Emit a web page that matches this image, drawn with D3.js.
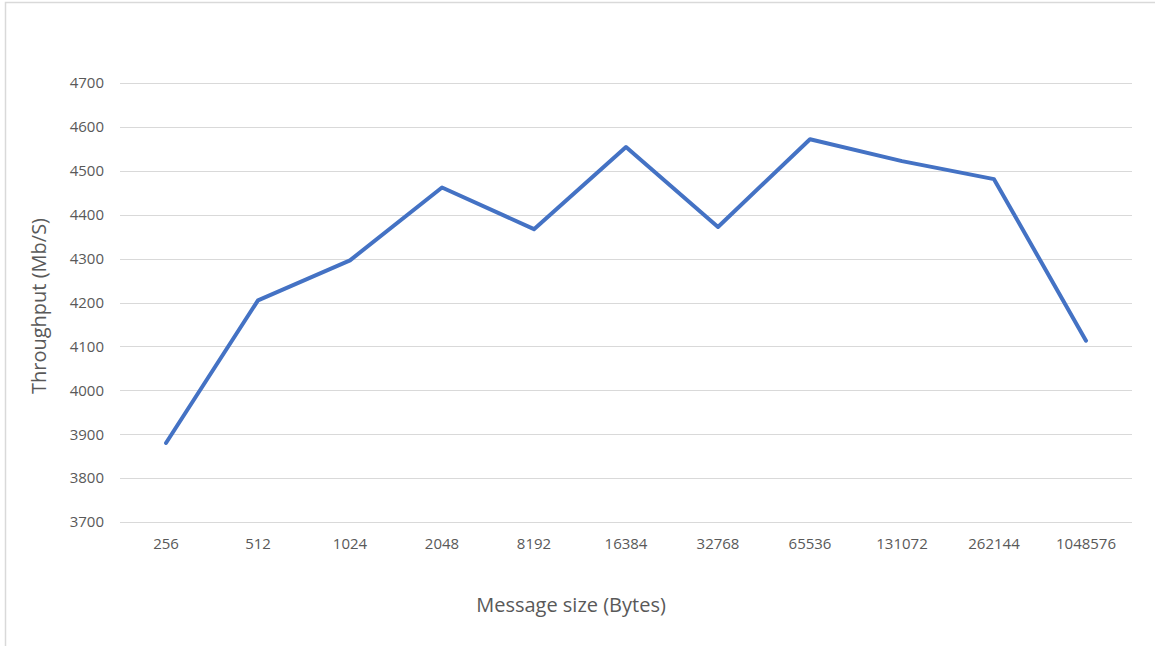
<!DOCTYPE html>
<html>
<head>
<meta charset="utf-8">
<script src="https://cdn.jsdelivr.net/npm/d3@7"></script>
<style>
    body { margin: 0; background: #ffffff; }
    svg { display: block; }
    text { font-family: "Open Sans", "DejaVu Sans", sans-serif; }
</style>
</head>
<body>
<div id="chart"></div>
<script>
"use strict";

// Message sizes (Bytes) on the x axis
const message_sizes = ["256", "512", "1024", "2048", "8192", "16384", "32768", "65536", "131072", "262144", "1048576"];
// Throughput values (Mb/S)
const throughput = [3880, 4205, 4296, 4462, 4367, 4554, 4372, 4572, 4522, 4481, 4113];
// Y axis ticks
const y_ticks = [3700, 3800, 3900, 4000, 4100, 4200, 4300, 4400, 4500, 4600, 4700];

const width = 1155;
const height = 646;
const margins = {top: 83, right: 23, bottom: 124, left: 120};
const plot_width = width - margins.left - margins.right;
const plot_height = height - margins.top - margins.bottom;

const svg = d3.select("#chart").append("svg")
    .attr("width", width)
    .attr("height", height);

// Outer frame of the chart area
svg.append("rect")
    .attr("x", 5.5)
    .attr("y", 2.5)
    .attr("width", width + 10)
    .attr("height", height + 10)
    .attr("fill", "white")
    .attr("stroke", "#d9d9d9")
    .attr("stroke-width", 1.5);

const x_scale = d3.scaleBand()
    .domain(message_sizes)
    .range([0, plot_width]);

const y_scale = d3.scaleLinear()
    .domain([3700, 4700])
    .range([plot_height, 0]);

const plot = svg.append("g")
    .attr("transform", "translate(" + margins.left + ", " + margins.top + ")");

// Horizontal grid lines
plot.append("g")
    .selectAll("line")
    .data(y_ticks)
    .join("line")
    .attr("x1", 0)
    .attr("x2", plot_width)
    .attr("y1", d => Math.round(y_scale(d)) + 0.5)
    .attr("y2", d => Math.round(y_scale(d)) + 0.5)
    .attr("stroke", "#d9d9d9")
    .attr("stroke-width", 1.2);

// Y axis labels
const y_axis = d3.axisLeft(y_scale)
    .tickValues(y_ticks)
    .tickFormat(d3.format("d"))
    .tickSize(0)
    .tickPadding(16);
const y_g = plot.append("g").call(y_axis);
y_g.select(".domain").remove();
y_g.selectAll("text")
    .attr("fill", "#595959")
    .style("font-size", "15px");

// X axis labels
const x_axis = d3.axisBottom(x_scale).tickSize(0).tickPadding(16);
const x_g = plot.append("g")
    .attr("transform", "translate(0, " + plot_height + ")")
    .call(x_axis);
x_g.select(".domain").remove();
x_g.selectAll("text")
    .attr("fill", "#595959")
    .style("font-size", "15px");

// The data line
const line = d3.line()
    .x((d, i) => x_scale(message_sizes[i]) + x_scale.bandwidth() / 2)
    .y(d => y_scale(d));

plot.append("path")
    .datum(throughput)
    .attr("d", line)
    .attr("fill", "none")
    .attr("stroke", "#4472c4")
    .attr("stroke-width", 4)
    .attr("stroke-linejoin", "round")
    .attr("stroke-linecap", "round");

// Axis titles
svg.append("text")
    .attr("text-anchor", "middle")
    .attr("x", 571)
    .attr("y", 612)
    .attr("fill", "#595959")
    .style("font-size", "20px")
    .text("Message size (Bytes)");

svg.append("text")
    .attr("text-anchor", "middle")
    .attr("transform", "translate(46, 306) rotate(-90)")
    .attr("fill", "#595959")
    .style("font-size", "20px")
    .text("Throughput (Mb/S)");
</script>
</body>
</html>
